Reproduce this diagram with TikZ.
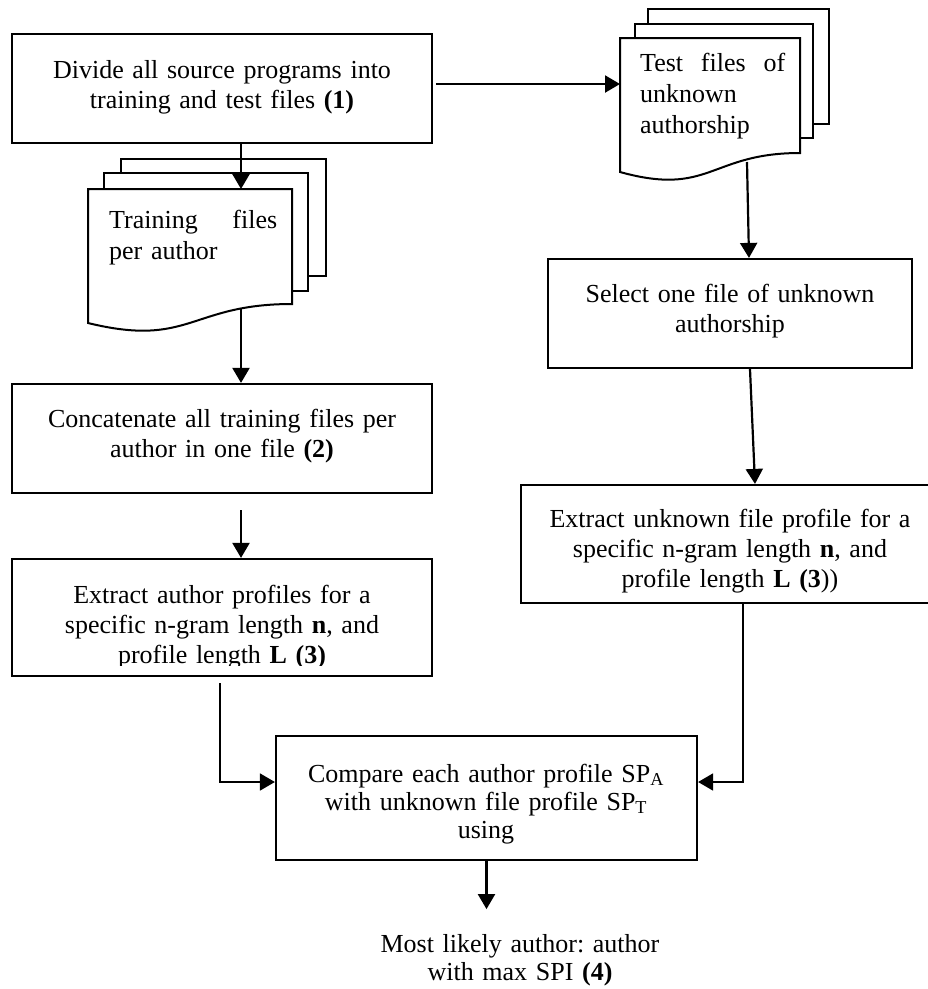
\documentclass[tikz,border=0pt]{standalone}
\usepackage{fontspec}
\setmainfont{Liberation Serif}
\usetikzlibrary{arrows.meta,calc}
\frenchspacing
\begin{document}
\begin{tikzpicture}[x=1pt,y=-1pt,
  txt/.style={font=\fontsize{26}{30}\selectfont, inner sep=0pt, text width=400pt, align=center, anchor=base},
  txtb/.style={font=\fontsize{26}{28}\selectfont, inner sep=0pt, text width=400pt, align=center, anchor=base},
  doctxt/.style={font=\fontsize{26}{31}\selectfont, inner sep=0pt, align=left, anchor=base west},
  boxst/.style={draw, line width=2.2pt, inner sep=0pt},
  docst/.style={draw, fill=white, line width=2pt, line join=miter},
  arr/.style={line width=2.2pt, -{Triangle[length=15pt,width=17pt]}},
  thinarr/.style={line width=1.7pt, -{Triangle[length=15pt,width=17pt]}}]
\clip (0,0) rectangle (928,989);
\fill[white] (0,0) rectangle (928,989);

% ---- boxes ----
\node[boxst, minimum width=420pt, minimum height=109pt] (b1) at (222,88.5) {};
\node[txt] (t1) at (222,78) {Divide all source programs into\\training and test files \textbf{(1)}};

\node[boxst, minimum width=420pt, minimum height=109pt] (b2) at (222,438.5) {};
\node[txt] (t2) at (222,427) {Concatenate all training files per\\author in one file \textbf{(2)}};

\node[boxst, minimum width=420pt, minimum height=117pt] (b3) at (222,617.5) {};
\begin{scope}
  \clip (12,540) rectangle (432,665);
  \node[txt] (t3) at (222,603) {Extract author profiles for a\\specific n-gram length \textbf{n}, and\\profile length \textbf{L (3)}};
\end{scope}

\node[boxst, minimum width=364pt, minimum height=109pt] (b4) at (730,313.5) {};
\node[txt] (t4) at (730,302) {Select one file of unknown\\authorship};

\node[boxst, minimum width=418pt, minimum height=118pt] (b5) at (730,544) {};
\begin{scope}
  \clip (521,470) rectangle (928,592);
  \node[txt] (t5) at (730,527) {Extract unknown file profile for a\\specific n-gram length \textbf{n}, and\\profile length \textbf{L (3}))};
\end{scope}

\node[boxst, minimum width=421pt, minimum height=124pt] (b6) at (486.5,798) {};
\node[txtb] (t6) at (486,782)
  {Compare each author profile SP\textsubscript{A}\\with unknown file profile SP\textsubscript{T}\\using};

\node[txtb] (res) at (520,952) {Most likely author: author\\with max SPI \textbf{(4)}};

% ---- training files stack ----
\draw[docst] (121,159) rectangle (326,276);
\draw[docst] (104,173) rectangle (308,291);
\draw[docst] (88,189) -- (292,189) -- (292,304) .. controls (190,304) and (190,348) .. (88,323) -- cycle;
\node[doctxt, text width=168pt] (trt) at (109,228) {Training\hfill files\\per author};
\coordinate (trtop) at (241,189);
\coordinate (trbot) at (241,309);

% ---- test files stack ----
\draw[docst] (648,9) rectangle (829,124);
\draw[docst] (635,24) rectangle (813,138);
\draw[docst] (620,38) -- (800,38) -- (800,153) .. controls (710,153) and (710,197) .. (620,172) -- cycle;
\node[doctxt, text width=145pt] (tst) at (640,71) {Test\hfill files\hfill of\\unknown\\authorship};
\coordinate (tdw) at (620,84);
\coordinate (tdbot) at (747,162);

% ---- connectors ----
\draw[arr] ($(b1.east)+(3,-4.5)$) -- (tdw);
\draw[arr] (trtop |- b1.south) -- (trtop);
\draw[arr] (trbot) -- (trbot |- b2.north);
\draw[arr] ($(trtop |- b2.south)+(0,16)$) -- (trtop |- b3.north);
\draw[arr] (tdbot) -- ($(b4.north)+(19,0)$);
\draw[arr] ($(b4.south)+(20,0)$) -- ($(b5.north)+(25,0)$);
\draw[thinarr] ($(b3.south)+(-2,6)$) |- ($(b6.west)+(0,-16)$);
\draw[thinarr] ($(b5.south)+(13,0)$) |- ($(b6.east)+(0,-16)$);
\draw[arr] (b6.south) -- ($(b6.south)+(0,48)$);
\end{tikzpicture}
\end{document}
